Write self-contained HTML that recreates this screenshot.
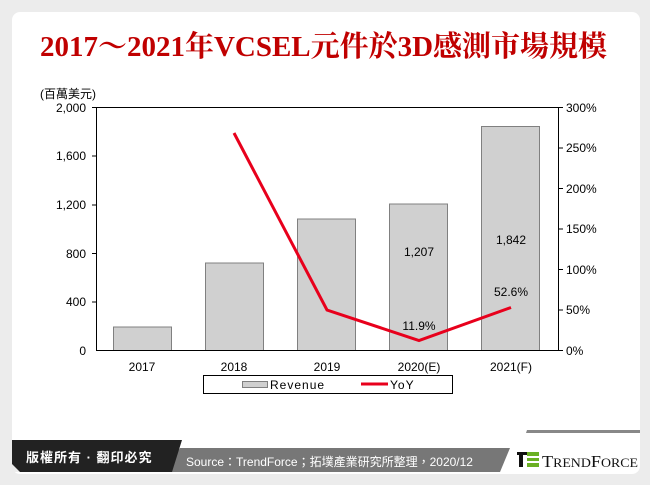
<!DOCTYPE html>
<html><head><meta charset="utf-8"><style>
body{margin:0;width:650px;height:485px;background:#ececec;overflow:hidden;font-family:"Liberation Sans","Noto Sans CJK TC",sans-serif}
</style></head><body>
<svg width="650" height="485" xmlns="http://www.w3.org/2000/svg" style="position:absolute;left:0;top:0">
<rect x="12" y="12" width="628" height="462" rx="8" fill="#fff"/>
<text x="40" y="56" textLength="567" lengthAdjust="spacingAndGlyphs" font-family="Liberation Serif,Noto Serif CJK SC,serif" font-weight="bold" font-size="29" fill="#c00000">2017～2021年VCSEL元件於3D感測市場規模</text>
<g font-size="12" fill="#000">
<text x="40" y="98">(百萬美元)</text>
<g text-anchor="end">
<text x="86" y="112">2,000</text><text x="86" y="160">1,600</text><text x="86" y="209">1,200</text><text x="86" y="258">800</text><text x="86" y="306">400</text><text x="86" y="355">0</text>
</g>
<g>
<text x="566" y="112">300%</text><text x="566" y="152">250%</text><text x="566" y="193">200%</text><text x="566" y="233">150%</text><text x="566" y="274">100%</text><text x="566" y="314">50%</text><text x="566" y="355">0%</text>
</g>
<g text-anchor="middle">
<text x="142" y="371">2017</text><text x="234" y="371">2018</text><text x="327" y="371">2019</text><text x="419" y="371">2020(E)</text><text x="511" y="371">2021(F)</text>
</g>
</g>
<g fill="#d0d0d0" stroke="#808080" stroke-width="1">
<rect x="113.5" y="327" width="58" height="23.5"/>
<rect x="205.5" y="263" width="58" height="87.5"/>
<rect x="297.5" y="219" width="58" height="131.5"/>
<rect x="389.5" y="204" width="58" height="146.5"/>
<rect x="481.5" y="126.5" width="58" height="224"/>
</g>
<rect x="96.5" y="107.5" width="462" height="243" fill="none" stroke="#000" stroke-width="1"/>
<g stroke="#000">
<line x1="92" y1="107.5" x2="96" y2="107.5"/><line x1="92" y1="156" x2="96" y2="156"/><line x1="92" y1="205" x2="96" y2="205"/><line x1="92" y1="253.5" x2="96" y2="253.5"/><line x1="92" y1="302" x2="96" y2="302"/>
<line x1="559" y1="148" x2="563" y2="148"/><line x1="559" y1="188.5" x2="563" y2="188.5"/><line x1="559" y1="229" x2="563" y2="229"/><line x1="559" y1="269.5" x2="563" y2="269.5"/><line x1="559" y1="310" x2="563" y2="310"/><line x1="559" y1="107.5" x2="563" y2="107.5"/><line x1="559" y1="350.5" x2="563" y2="350.5"/>
</g>
<polyline points="234,133 327,310 419,340.5 511,307.5" fill="none" stroke="#e8001c" stroke-width="3"/>
<g font-size="12" text-anchor="middle">
<text x="419" y="256">1,207</text><text x="511" y="244">1,842</text><text x="419" y="330">11.9%</text><text x="511" y="296">52.6%</text>
</g>
<rect x="203.5" y="375.5" width="249" height="18" fill="#fff" stroke="#000"/>
<rect x="242.5" y="381.5" width="25" height="6" fill="#d0d0d0" stroke="#808080"/>
<text x="270" y="389" font-size="12" letter-spacing="1">Revenue</text>
<line x1="361" y1="384" x2="388" y2="384" stroke="#e8001c" stroke-width="3"/>
<text x="390" y="389" font-size="12" letter-spacing="1">YoY</text>
<polygon points="180,448 510,448 500,472 165,472" fill="#777"/>
<polygon points="12,440 182,440 172,472 12,472" fill="#222"/>
<path d="M12,464 L12,472 L20,472 Z" fill="#ececec"/>
<polygon points="526,430 640,430 640,448 524,448" fill="#fff"/>
<polygon points="527,430 640,430 640,433 526,433" fill="#888"/>
<text x="26" y="462" font-size="13" font-weight="bold" fill="#fff" letter-spacing="1">版權所有 · 翻印必究</text>
<text x="186" y="466" font-size="12" fill="#fff">Source：TrendForce；拓墣產業研究所整理，2020/12</text>
<rect x="517" y="452" width="10" height="3" fill="#111"/><rect x="519" y="455" width="4" height="12" fill="#111"/>
<rect x="527" y="452" width="12" height="4" fill="#6ab023"/><rect x="527" y="458" width="12" height="3" fill="#6ab023"/><rect x="527" y="463" width="12" height="4" fill="#6ab023"/>
<text x="542" y="467" font-family="Liberation Serif,serif" font-size="17" fill="#111" textLength="96" lengthAdjust="spacingAndGlyphs">T<tspan font-size="13">REND</tspan>F<tspan font-size="13">ORCE</tspan></text>
</svg>
</body></html>
